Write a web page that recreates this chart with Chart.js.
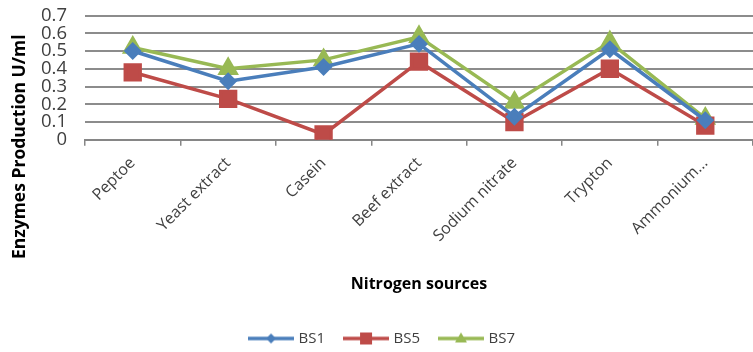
<!DOCTYPE html>
<html>
<head>
<meta charset="utf-8">
<script src="https://cdn.jsdelivr.net/npm/chart.js@4/dist/chart.umd.min.js"></script>
<style>
  html, body { margin: 0; padding: 0; background: #ffffff; overflow: hidden; }
  #wrap { width: 753px; height: 352px; position: relative; }
</style>
</head>
<body>
<div id="wrap"><canvas id="chart"></canvas></div>
<script>
// Nitrogen sources tested
const categories = ['Peptoe', 'Yeast extract', 'Casein', 'Beef extract', 'Sodium nitrate', 'Trypton', 'Ammonium...'];

// Enzyme production (U/ml) for each strain
const bs1 = [0.50, 0.33, 0.41, 0.54, 0.13, 0.51, 0.11];
const bs5 = [0.38, 0.23, 0.03, 0.44, 0.10, 0.40, 0.08];
const bs7 = [0.52, 0.40, 0.45, 0.58, 0.21, 0.55, 0.12];

const yTicks = [0, 0.1, 0.2, 0.3, 0.4, 0.5, 0.6, 0.7];

const yTitle = 'Enzymes Production U/ml';
const xTitle = 'Nitrogen sources';

const BLUE = '#4A7EBB';
const RED = '#BE4B48';
const GREEN = '#98B954';
const FONT = '"Open Sans", Lato, sans-serif';

// Legend icon: short line segment with the series marker in the middle
function legendIcon(color, style) {
  const c = document.createElement('canvas');
  c.width = 46; c.height = 16;
  const g = c.getContext('2d');
  g.strokeStyle = color; g.fillStyle = color; g.lineWidth = 3.5;
  g.beginPath(); g.moveTo(0, 8); g.lineTo(46, 8); g.stroke();
  g.beginPath();
  if (style === 'diamond') {
    g.moveTo(23, 3); g.lineTo(28, 8); g.lineTo(23, 13); g.lineTo(18, 8);
  } else if (style === 'square') {
    g.rect(17, 2, 12, 12);
  } else {
    g.moveTo(23, 2); g.lineTo(29, 12); g.lineTo(17, 12);
  }
  g.closePath(); g.fill();
  return c;
}

const icons = [legendIcon(BLUE, 'diamond'), legendIcon(RED, 'square'), legendIcon(GREEN, 'triangle')];

// Vertical axis title, centred on the value axis plus its category labels
const yTitlePlugin = {
  id: 'yTitle',
  beforeDraw(chart) {
    // nudge the legend row a little to the left
    if (chart.legend) { chart.legend.left -= 9; chart.legend.right -= 9; }
  },
  afterDraw(chart) {
    const { ctx } = chart;
    const x = chart.scales.x;
    const cy = (chart.chartArea.top + x.bottom) / 2 - 16;
    ctx.save();
    ctx.translate(20, cy);
    ctx.rotate(-Math.PI / 2);
    ctx.fillStyle = '#000000';
    ctx.font = 'bold 17.5px ' + FONT;
    ctx.textAlign = 'center';
    ctx.textBaseline = 'middle';
    ctx.fillText(yTitle, 0, 0);
    ctx.restore();
  }
};

new Chart(document.getElementById('chart'), {
  type: 'line',
  data: {
    labels: categories,
    datasets: [
      { label: 'BS1', data: bs1, borderColor: BLUE, backgroundColor: BLUE,
        borderWidth: 3.5, pointStyle: 'rectRot', pointRadius: 6.5, pointHoverRadius: 6.5 },
      { label: 'BS5', data: bs5, borderColor: RED, backgroundColor: RED,
        borderWidth: 3.5, pointStyle: 'rect', pointRadius: 10.5, pointHoverRadius: 10.5 },
      { label: 'BS7', data: bs7, borderColor: GREEN, backgroundColor: GREEN,
        borderWidth: 3.5, pointStyle: 'triangle', pointRadius: 9, pointHoverRadius: 9 }
    ]
  },
  plugins: [yTitlePlugin],
  options: {
    responsive: true,
    maintainAspectRatio: false,
    animation: false,
    layout: { autoPadding: false, padding: { left: 23, right: -8, top: 15.5, bottom: -4 } },
    plugins: {
      tooltip: { enabled: false },
      legend: {
        position: 'bottom',
        labels: {
          usePointStyle: true,
          pointStyleWidth: 40,
          boxHeight: 16,
          padding: 21,
          color: '#404040',
          font: { family: FONT, size: 15 },
          generateLabels(chart) {
            return chart.data.datasets.map((ds, i) => ({
              text: ds.label,
              pointStyle: icons[i],
              fillStyle: ds.borderColor,
              strokeStyle: ds.borderColor,
              lineWidth: 0,
              fontColor: '#404040',
              hidden: false,
              datasetIndex: i
            }));
          }
        }
      }
    },
    scales: {
      x: {
        offset: true,
        afterFit(scale) { scale.paddingRight = 0; },
        grid: { display: true, offset: true, drawOnChartArea: false, drawTicks: true,
                tickLength: 6, color: '#868686', lineWidth: 1.5 },
        border: { display: true, color: '#868686', width: 2 },
        ticks: {
          maxRotation: 45, minRotation: 45, autoSkip: false, padding: 8,
          color: '#404040', font: { family: FONT, size: 16 }
        },
        title: {
          display: true, text: xTitle, color: '#000000',
          font: { family: FONT, size: 16, weight: 'bold' }, padding: { top: 28, bottom: 16 }
        }
      },
      y: {
        min: 0, max: 0.7,
        afterBuildTicks(axis) { axis.ticks = yTicks.map(v => ({ value: v })); },
        afterFit(scale) { scale.paddingTop = 0; },
        grid: { color: '#8c8c8c', lineWidth: 2, drawTicks: false },
        border: { display: false },
        ticks: {
          autoSkip: false, padding: 18, color: '#404040',
          font: { family: FONT, size: 18.5 },
          callback: v => (v === 0 ? '0' : v.toFixed(1))
        }
      }
    }
  }
});
</script>
</body>
</html>
